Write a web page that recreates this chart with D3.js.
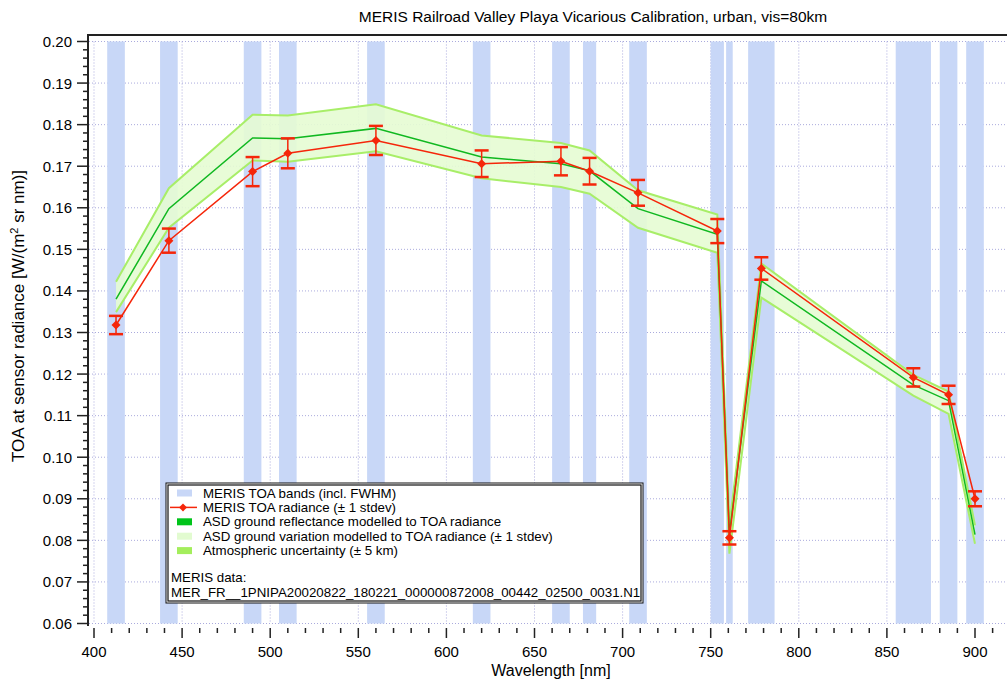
<!DOCTYPE html>
<html>
<head>
<meta charset="utf-8">
<script src="https://cdn.jsdelivr.net/npm/d3@7"></script>
<style>
  body { margin: 0; background: #fff; }
  svg { font-family: "Liberation Sans", Arial, Helvetica, sans-serif; }
</style>
</head>
<body>
<div id="chart"></div>
<script>
// MERIS band centres (nm) and full width at half maximum
let bandCenters = [412.5, 442.5, 490, 510, 560, 620, 665, 681.25, 708.75, 753.75, 760.625, 778.75, 865, 885, 900];
let bandWidths = [10, 10, 10, 10, 10, 10, 10, 7.5, 10, 7.5, 3.75, 15, 20, 10, 10];

// MERIS TOA radiance and stdev
let merisToa = [0.1318, 0.1521, 0.1687, 0.1731, 0.1762, 0.1706, 0.1712, 0.1688, 0.1636, 0.1544, 0.0806, 0.1454, 0.1192, 0.1150, 0.0900];
let merisStd = [0.0022, 0.0029, 0.0035, 0.0036, 0.0035, 0.0032, 0.0034, 0.0032, 0.0031, 0.0029, 0.0016, 0.0027, 0.0022, 0.0022, 0.0018];

// ASD ground reflectance modelled to TOA, with variation band
let asdToa = [0.1380, 0.1598, 0.1768, 0.1766, 0.1791, 0.1722, 0.1706, 0.1689, 0.1598, 0.1536, 0.0816, 0.1424, 0.1174, 0.1136, 0.0814];
let asdUpper = [0.1422, 0.1647, 0.1824, 0.1822, 0.1849, 0.1774, 0.1756, 0.1738, 0.1642, 0.1584, 0.0838, 0.1466, 0.1198, 0.1158, 0.0836];
let asdLower = [0.1349, 0.1552, 0.1714, 0.1711, 0.1736, 0.1671, 0.1650, 0.1634, 0.1552, 0.1492, 0.0768, 0.1384, 0.1148, 0.1104, 0.0792];

let xTicks = [400, 450, 500, 550, 600, 650, 700, 750, 800, 850, 900];
let yTicks = [0.06, 0.07, 0.08, 0.09, 0.10, 0.11, 0.12, 0.13, 0.14, 0.15, 0.16, 0.17, 0.18, 0.19, 0.20];

let legendItems = [
    "MERIS TOA bands (incl. FWHM)",
    "MERIS TOA radiance (\u00b1 1 stdev)",
    "ASD ground reflectance modelled to TOA radiance",
    "ASD ground variation modelled to TOA radiance (\u00b1 1 stdev)",
    "Atmospheric uncertainty (\u00b1 5 km)"
];
let dataNote = ["MERIS data:", "MER_FR__1PNIPA20020822_180221_000000872008_00442_02500_0031.N1"];

let W = 1007, H = 684;
let bandColor = "#c8d7f7", redColor = "#f5260a", greenColor = "#10b820",
    fillColor = "#e6fcd3", edgeColor = "#a8ee68", gridColor = "#aaaadd";

let svg = d3.select("#chart").append("svg")
    .attr("width", W)
    .attr("height", H);

let frameLeft = 88, frameTop = 35;
let x = d3.scaleLinear().domain([400, 900]).range([94, 975]);
let y = d3.scaleLinear().domain([0.06, 0.20]).range([623.5, 41.5]);

let plot = svg.append("g");

// grid
xTicks.forEach(function(t) {
    plot.append("line")
        .attr("x1", x(t)).attr("x2", x(t))
        .attr("y1", y(0.20)).attr("y2", y(0.06))
        .attr("stroke", gridColor).attr("stroke-width", 1)
        .attr("stroke-dasharray", "1,2");
});
yTicks.forEach(function(t) {
    plot.append("line")
        .attr("x1", frameLeft + 1).attr("x2", W)
        .attr("y1", y(t)).attr("y2", y(t))
        .attr("stroke", gridColor).attr("stroke-width", 1)
        .attr("stroke-dasharray", "1,2");
});

// MERIS bands
plot.selectAll(".band")
    .data(bandCenters)
    .enter().append("rect")
    .attr("class", "band")
    .attr("x", function(d, i) { return x(d - bandWidths[i] / 2); })
    .attr("width", function(d, i) { return x(d + bandWidths[i] / 2) - x(d - bandWidths[i] / 2); })
    .attr("y", y(0.20))
    .attr("height", y(0.06) - y(0.20))
    .attr("fill", bandColor);

// ASD variation band
let idx = d3.range(bandCenters.length);
let area = d3.area()
    .x(function(i) { return x(bandCenters[i]); })
    .y0(function(i) { return y(asdLower[i]); })
    .y1(function(i) { return y(asdUpper[i]); });
plot.append("path")
    .attr("d", area(idx))
    .attr("fill", fillColor)
    .attr("fill-opacity", 0.9);

let upperLine = d3.line()
    .x(function(i) { return x(bandCenters[i]); })
    .y(function(i) { return y(asdUpper[i]); });
let lowerLine = d3.line()
    .x(function(i) { return x(bandCenters[i]); })
    .y(function(i) { return y(asdLower[i]); });
plot.append("path").attr("d", upperLine(idx))
    .attr("fill", "none").attr("stroke", edgeColor).attr("stroke-width", 2);
plot.append("path").attr("d", lowerLine(idx))
    .attr("fill", "none").attr("stroke", edgeColor).attr("stroke-width", 2);

// ASD modelled line
let asdLine = d3.line()
    .x(function(i) { return x(bandCenters[i]); })
    .y(function(i) { return y(asdToa[i]); });
plot.append("path").attr("d", asdLine(idx))
    .attr("fill", "none").attr("stroke", greenColor).attr("stroke-width", 1.5);

// MERIS radiance line + error bars
let merisLine = d3.line()
    .x(function(i) { return x(bandCenters[i]); })
    .y(function(i) { return y(merisToa[i]); });
plot.append("path").attr("d", merisLine(idx))
    .attr("fill", "none").attr("stroke", redColor).attr("stroke-width", 1.5);

let errG = plot.selectAll(".err")
    .data(idx)
    .enter().append("g")
    .attr("class", "err");
errG.append("line")
    .attr("x1", function(i) { return x(bandCenters[i]); })
    .attr("x2", function(i) { return x(bandCenters[i]); })
    .attr("y1", function(i) { return y(merisToa[i] + merisStd[i]); })
    .attr("y2", function(i) { return y(merisToa[i] - merisStd[i]); })
    .attr("stroke", redColor).attr("stroke-width", 1.5);
[1, -1].forEach(function(s) {
    errG.append("line")
        .attr("x1", function(i) { return x(bandCenters[i]) - 7; })
        .attr("x2", function(i) { return x(bandCenters[i]) + 7; })
        .attr("y1", function(i) { return y(merisToa[i] + s * merisStd[i]); })
        .attr("y2", function(i) { return y(merisToa[i] + s * merisStd[i]); })
        .attr("stroke", redColor).attr("stroke-width", 2.5);
});
errG.append("path")
    .attr("d", function(i) {
        let cx = x(bandCenters[i]), cy = y(merisToa[i]);
        return "M" + cx + "," + (cy - 4.5) + "L" + (cx + 4.5) + "," + cy +
            "L" + cx + "," + (cy + 4.5) + "L" + (cx - 4.5) + "," + cy + "Z";
    })
    .attr("fill", redColor);

// frame: top line and left axis
svg.append("line")
    .attr("x1", frameLeft).attr("x2", W)
    .attr("y1", frameTop).attr("y2", frameTop)
    .attr("stroke", "#222").attr("stroke-width", 2);
svg.append("line")
    .attr("x1", frameLeft).attr("x2", frameLeft)
    .attr("y1", frameTop - 1).attr("y2", 626)
    .attr("stroke", "#222").attr("stroke-width", 2);

// y axis ticks
let yMinor = d3.range(60, 201, 2).map(function(v) { return v / 1000; });
yMinor.forEach(function(t) {
    let major = Math.round(t * 1000) % 10 === 0;
    svg.append("line")
        .attr("x1", frameLeft - (major ? 11 : 5)).attr("x2", frameLeft)
        .attr("y1", y(t)).attr("y2", y(t))
        .attr("stroke", "#222").attr("stroke-width", 1.5);
});
svg.selectAll(".ylab")
    .data(yTicks)
    .enter().append("text")
    .attr("class", "ylab")
    .attr("x", 72)
    .attr("y", function(d) { return y(d) + 5.5; })
    .attr("text-anchor", "end")
    .attr("font-size", "15px")
    .text(function(d) { return d3.format(".2f")(d); });

// x axis ticks (no baseline)
d3.range(400, 921, 10).forEach(function(t) {
    let major = t % 50 === 0;
    svg.append("line")
        .attr("x1", x(t)).attr("x2", x(t))
        .attr("y1", 628).attr("y2", major ? 638 : 633)
        .attr("stroke", "#222").attr("stroke-width", 1.5);
});
svg.selectAll(".xlab")
    .data(xTicks)
    .enter().append("text")
    .attr("class", "xlab")
    .attr("x", function(d) { return x(d); })
    .attr("y", 657)
    .attr("text-anchor", "middle")
    .attr("font-size", "15px")
    .text(function(d) { return d; });

// titles
svg.append("text")
    .attr("x", 593).attr("y", 22)
    .attr("text-anchor", "middle")
    .attr("font-size", "15.5px")
    .text("MERIS Railroad Valley Playa Vicarious Calibration, urban, vis=80km");

svg.append("text")
    .attr("x", 551).attr("y", 676)
    .attr("text-anchor", "middle")
    .attr("font-size", "16px")
    .text("Wavelength [nm]");

let yl = svg.append("text")
    .attr("transform", "translate(24,316) rotate(-90)")
    .attr("text-anchor", "middle")
    .attr("font-size", "17px");
yl.append("tspan").text("TOA at sensor radiance [W/(m");
yl.append("tspan").attr("dy", -6).attr("font-size", "11px").text("2");
yl.append("tspan").attr("dy", 6).text(" sr nm)]");

// legend
let lg = svg.append("g");
lg.append("rect")
    .attr("x", 166).attr("y", 483).attr("width", 477).attr("height", 120)
    .attr("fill", "#fff").attr("stroke", "#111").attr("stroke-width", 1);
lg.append("rect")
    .attr("x", 168).attr("y", 485).attr("width", 473).attr("height", 116)
    .attr("fill", "none").attr("stroke", "#111").attr("stroke-width", 1.2);

let rowY = function(i) { return 493 + i * 14.4; };
let swatchColors = [bandColor, null, "#00c41a", "#e2fbd0", "#a4ee5c"];
legendItems.forEach(function(label, i) {
    if (i === 1) {
        lg.append("line")
            .attr("x1", 170).attr("x2", 197)
            .attr("y1", rowY(i)).attr("y2", rowY(i))
            .attr("stroke", redColor).attr("stroke-width", 1.5);
        lg.append("path")
            .attr("d", "M183," + (rowY(i) - 4) + "L187," + rowY(i) + "L183," + (rowY(i) + 4) + "L179," + rowY(i) + "Z")
            .attr("fill", redColor);
    } else {
        lg.append("rect")
            .attr("x", 177).attr("y", rowY(i) - 3.5)
            .attr("width", 15).attr("height", 7)
            .attr("fill", swatchColors[i]);
    }
    lg.append("text")
        .attr("x", 203).attr("y", rowY(i) + 4.5)
        .attr("font-size", "13.3px")
        .text(label);
});
dataNote.forEach(function(t, i) {
    lg.append("text")
        .attr("x", 171).attr("y", 582 + i * 15)
        .attr("font-size", "13.3px")
        .text(t);
});
</script>
</body>
</html>
